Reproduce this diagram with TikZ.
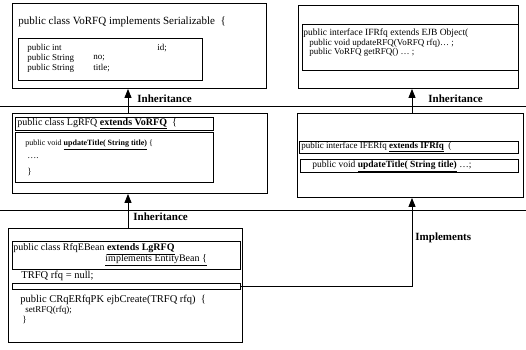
\documentclass[tikz,border=0pt]{standalone}
\usepackage{fontspec}
\setmainfont{Liberation Serif}
\usetikzlibrary{arrows.meta}

\begin{document}
\begin{tikzpicture}[x=1pt, y=-1pt, >={Triangle[width=7pt,length=9pt]}, line width=0.9pt,
  box/.style={draw, rectangle, inner sep=0pt, anchor=north west},
  code/.style={anchor=west, inner sep=0pt, font=\fontsize{9}{10}\selectfont},
  big/.style={code, font=\fontsize{10.5}{11}\selectfont},
  small/.style={code, font=\fontsize{8}{9}\selectfont},
  rel/.style={anchor=west, inner sep=0pt, font=\fontsize{11}{12}\selectfont\bfseries}]
  \useasboundingbox (0,0) rectangle (526,349);
  \coordinate (xl) at (128,0); \coordinate (xr) at (412,0);
  % VoRFQ
  \node[box, minimum width=254pt, minimum height=85pt] (vo) at (12,3) {};
  \node[big, font=\fontsize{11}{12}\selectfont] (voT) at (18,22) {public class VoRFQ implements Serializable~~\{};
  \node[box, minimum width=184pt, minimum height=42pt] (voF) at (18,38) {};
  \node[code] (f1) at (27,48) {public int}; \node[code] (f1v) at (157,48) {id;};
  \node[code] (f2) at (27,58) {public String}; \node[code] (f2v) at (93,58) {no;};
  \node[code] (f3) at (27,68) {public String}; \node[code] (f3v) at (93,68) {title;};
  % IFRfq
  \node[box, minimum width=220pt, minimum height=83pt] (ifr) at (298,5) {};
  \node[box, minimum width=216pt, minimum height=46pt] (ifrB) at (302,24) {};
  \node[code, font=\fontsize{9.5}{10}\selectfont] (i1) at (303,33) {public interface IFRfq extends EJB Object(};
  \node[code] (i2) at (309,43) {public void updateRFQ(VoRFQ rfq)\dots\ ;};
  \node[code] (i3) at (309,52) {public VoRFQ getRFQ() \dots\ ;};
  % separators
  \draw (0,106) -- (526,106);
  \draw (0,210) -- (526,210);
  % LgRFQ
  \node[box, minimum width=255pt, minimum height=80pt] (lg) at (12,113) {};
  \node[box, minimum width=198pt, minimum height=13pt] (lgT) at (15,117) {};
  \node[code, font=\fontsize{10}{11}\selectfont] (l0) at (17,124) {public class LgRFQ \underline{\textbf{extends VoRFQ}}~~\{};
  \node[box, minimum width=198pt, minimum height=50pt] (lgM) at (15,132) {};
  \node[small] (l1) at (25,145) {public void \underline{\textbf{updateTitle( String title)}} \{};
  \node[code] (l2) at (27,158) {\dots.};
  \node[code] (l3) at (27,172) {\}};
  % IFERfq
  \node[box, minimum width=226pt, minimum height=84pt] (ife) at (297,113) {};
  \node[box, minimum width=219pt, minimum height=12pt] (ifeT) at (299,141) {};
  \node[code] (e0) at (301,147) {public interface IFERfq \underline{\textbf{extends IFRfq}}~~(};
  \node[box, minimum width=218pt, minimum height=13pt] (ifeM) at (300,159) {};
  \node[code, font=\fontsize{9.5}{10}\selectfont] (e1) at (312,166) {public void \underline{\textbf{updateTitle( String title)}} \dots;};
  % RfqEBean
  \node[box, minimum width=234pt, minimum height=114pt] (rfq) at (8,228) {};
  \node[box, minimum width=228pt, minimum height=28pt] (rfqT) at (12,241) {};
  \node[code, font=\fontsize{10}{11}\selectfont] (r0) at (13,249) {public class RfqEBean \underline{\textbf{extends LgRFQ}}};
  \node[code, font=\fontsize{10}{11}\selectfont] (r1) at (105,260) {\underline{implements EntityBean \{}};
  \node[big] (r2) at (21,276) {TRFQ rfq = null;};
  \node[box, minimum width=228pt, minimum height=6pt] (rfqN) at (12,283) {};
  \node[big] (r3) at (20,300) {public CRqERfqPK ejbCreate(TRFQ rfq)~~\{};
  \node[code] (r4) at (25,310) {setRFQ(rfq);};
  \node[code] (r5) at (22,320) {\}};
  % Inheritance / Implements
  \draw[->] (lg.north -| xl) -- (vo.south -| xl);
  \node[rel] (inh1) at (137,99) {Inheritance};
  \draw[->] (ife.north -| xr) -- (ifr.south -| xr);
  \node[rel] (inh2) at (428,99) {Inheritance};
  \draw[->] (rfq.north -| xl) -- (lg.south -| xl);
  \node[rel] (inh3) at (133,217) {Inheritance};
  \draw[->] (rfqN.east) -- (rfqN.east -| xr) -- (ife.south -| xr);
  \node[rel] (impl) at (415,238) {Implements};
\end{tikzpicture}
\end{document}
